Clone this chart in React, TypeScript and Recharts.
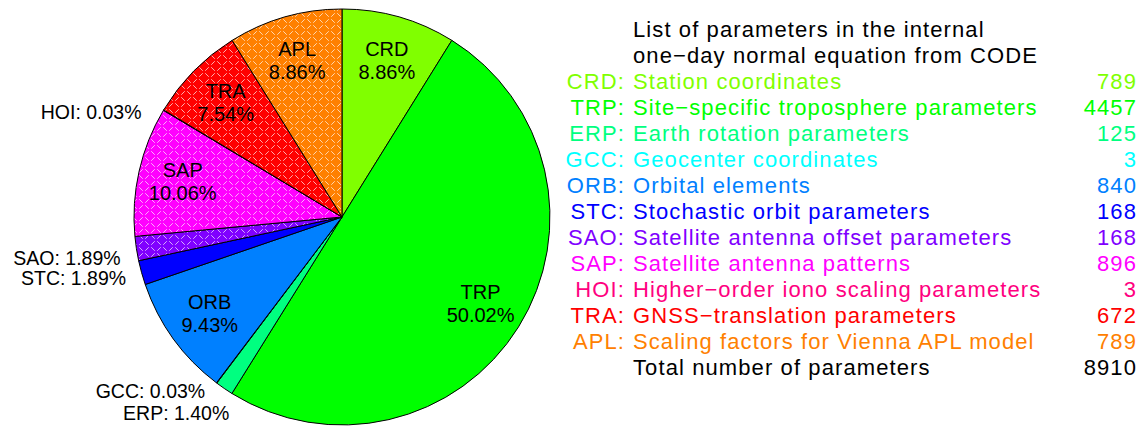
import { Cell, Pie, PieChart } from 'recharts';

const codes = ['CRD', 'TRP', 'ERP', 'GCC', 'ORB', 'STC', 'SAO', 'SAP', 'HOI', 'TRA', 'APL'];
const descriptions = [
  'Station coordinates',
  'Site\u2212specific troposphere parameters',
  'Earth rotation parameters',
  'Geocenter coordinates',
  'Orbital elements',
  'Stochastic orbit parameters',
  'Satellite antenna offset parameters',
  'Satellite antenna patterns',
  'Higher\u2212order iono scaling parameters',
  'GNSS\u2212translation parameters',
  'Scaling factors for Vienna APL model',
];
const counts = [789, 4457, 125, 3, 840, 168, 168, 896, 3, 672, 789];
const colors = [
  '#80ff00', '#00ff00', '#00ff80', '#00ffff', '#0080ff', '#0000ff',
  '#8000ff', '#ff00ff', '#ff0080', '#ff0000', '#ff8000',
];
const hatched = ['SAO', 'SAP', 'TRA', 'APL'];
const titleLines = ['List of parameters in the internal', 'one\u2212day normal equation from CODE'];
const totalLabel = 'Total number of parameters';

// small nudges for the outside labels that were moved by hand in the original
const labelNudge: Record<string, [number, number]> = {
  HOI: [-10, 9],
  SAO: [-2, 7],
  STC: [-2, 2],
  GCC: [-3, -3],
  ERP: [13, 13],
};

const FONT = '"Liberation Sans", Arial, Helvetica, sans-serif';
const RAD = Math.PI / 180;

const data = codes.map((code, i) => ({ name: code, value: counts[i] }));
const total = counts.reduce((a, b) => a + b, 0);

function renderLabel(props: any) {
  const { cx, cy, midAngle, outerRadius, percent, name } = props;
  const pct = `${(percent * 100).toFixed(2)}%`;
  const cos = Math.cos(-midAngle * RAD);
  const sin = Math.sin(-midAngle * RAD);
  if (percent < 0.03) {
    const r = outerRadius + 14;
    const [nx, ny] = labelNudge[name] ?? [0, 0];
    return (
      <text
        x={cx + r * cos + nx}
        y={cy + r * sin + ny}
        textAnchor="end"
        dominantBaseline="central"
        fontFamily={FONT}
        fontSize={19.5}
        fill="#000"
      >
        {`${name}: ${pct}`}
      </text>
    );
  }
  const r = outerRadius * 0.785;
  const x = cx + r * cos;
  const y = cy + r * sin;
  return (
    <text x={x} y={y} textAnchor="middle" fontFamily={FONT} fontSize={20} fill="#000">
      <tspan x={x} dy={-4}>{name}</tspan>
      <tspan x={x} dy={23}>{pct}</tspan>
    </text>
  );
}

const rowStyle = { display: 'flex', whiteSpace: 'nowrap' as const, height: 26 };

export default function App() {
  return (
    <div style={{ position: 'absolute', left: 0, top: 0, width: 1146, height: 430, background: '#fff', fontFamily: FONT }}>
      <PieChart width={1146} height={430} margin={{ top: 0, right: 0, bottom: 0, left: 0 }}>
        <defs>
          {codes.map((code, i) =>
            hatched.includes(code) ? (
              <pattern key={code} id={`hatch-${code}`} width={12} height={12} patternUnits="userSpaceOnUse">
                <rect width={12} height={12} fill={colors[i]} />
                <g stroke="#fff" strokeWidth={0.8} strokeLinecap="round" opacity={0.85}>
                  <line x1={1.5} y1={1.5} x2={4.5} y2={4.5} />
                  <line x1={7.5} y1={4.5} x2={10.5} y2={1.5} />
                  <line x1={1.5} y1={10.5} x2={4.5} y2={7.5} />
                  <line x1={7.5} y1={7.5} x2={10.5} y2={10.5} />
                </g>
              </pattern>
            ) : null,
          )}
        </defs>
        <Pie
          data={data}
          dataKey="value"
          nameKey="name"
          cx={342}
          cy={217}
          outerRadius={208}
          startAngle={90}
          endAngle={-270}
          stroke="#000"
          strokeWidth={1}
          label={renderLabel}
          labelLine={false}
          isAnimationActive={false}
        >
          {data.map((d, i) => (
            <Cell key={d.name} fill={hatched.includes(d.name) ? `url(#hatch-${d.name})` : colors[i]} />
          ))}
        </Pie>
      </PieChart>

      {/* parameter table on the right */}
      <div
        style={{
          position: 'absolute',
          left: 545,
          top: 17,
          width: 592,
          fontSize: 22,
          lineHeight: '26px',
          letterSpacing: 1.1,
        }}
      >
        {titleLines.map((t) => (
          <div key={t} style={{ ...rowStyle, paddingLeft: 88, color: '#000' }}>{t}</div>
        ))}
        {codes.map((code, i) => (
          <div key={code} style={{ ...rowStyle, color: colors[i] }}>
            <span style={{ width: 80, textAlign: 'right' }}>{code}:</span>
            <span style={{ marginLeft: 8, flex: 1 }}>{descriptions[i]}</span>
            <span style={{ textAlign: 'right' }}>{counts[i]}</span>
          </div>
        ))}
        <div style={{ ...rowStyle, color: '#000' }}>
          <span style={{ width: 80 }} />
          <span style={{ marginLeft: 8, flex: 1 }}>{totalLabel}</span>
          <span style={{ textAlign: 'right' }}>{total}</span>
        </div>
      </div>
    </div>
  );
}
